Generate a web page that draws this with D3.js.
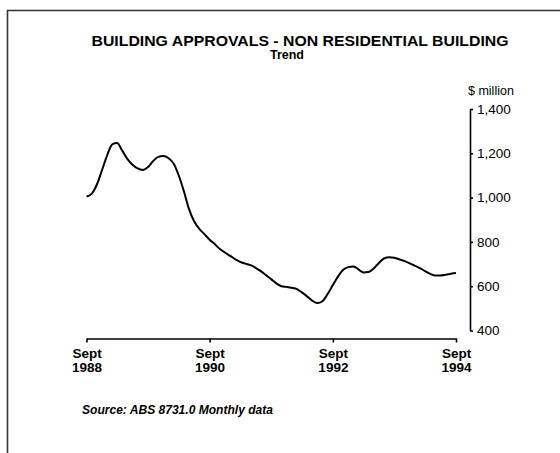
<!DOCTYPE html>
<html>
<head>
<meta charset="utf-8">
<script src="https://cdn.jsdelivr.net/npm/d3@7"></script>
<style>
  html, body { margin: 0; padding: 0; background: #fff; }
  svg { display: block; font-family: "Liberation Sans", Arial, Helvetica, sans-serif; }
</style>
</head>
<body>
<svg id="chart" width="560" height="453"></svg>
<script>
// Non-residential building approvals, trend series, $ million, monthly Sept 1988 - Sept 1994
const startMonth = new Date(1988, 8, 1);
const approvals = [
  1005, 1017, 1058, 1122, 1190, 1240, 1246, 1212, 1175, 1148, 1132, 1125,
  1138, 1165, 1184, 1188, 1178, 1152, 1102, 1030, 950, 893, 860, 835,
  810, 790, 768, 752, 737, 721, 710, 702, 695, 683, 668, 650,
  632, 613, 600, 597, 593, 587, 572, 554, 535, 524, 532, 565,
  605, 643, 674, 686, 689, 675, 662, 664, 680, 705, 725, 731,
  728, 721, 713, 703, 692, 681, 668, 656, 648, 648, 652, 656,
  660
];
const xTickDates = [new Date(1988, 8, 1), new Date(1990, 8, 1), new Date(1992, 8, 1), new Date(1994, 8, 1)];
const xTickMonth = "Sept";
const yTicks = [400, 600, 800, 1000, 1200, 1400];

const titleText = "BUILDING APPROVALS - NON RESIDENTIAL BUILDING";
const subtitleText = "Trend";
const unitText = "$ million";
const sourceText = "Source: ABS 8731.0 Monthly data";

const series = approvals.map((v, i) => ({ date: d3.timeMonth.offset(startMonth, i), value: v }));

const svg = d3.select("#chart");

// Frame (top and left edges fall inside the page)
svg.append("path")
  .attr("d", "M7.5,453 L7.5,10.5 L560,10.5")
  .attr("fill", "none")
  .attr("stroke", "#333")
  .attr("stroke-width", 1.6);

const x = d3.scaleTime()
  .domain([xTickDates[0], xTickDates[xTickDates.length - 1]])
  .range([86.5, 456]);

const y = d3.scaleLinear()
  .domain([400, 1400])
  .range([330.5, 109]);

// Titles
svg.append("text")
  .attr("x", 300).attr("y", 45.5)
  .attr("text-anchor", "middle")
  .attr("font-size", 15.2)
  .attr("font-weight", "bold")
  .attr("textLength", 417)
  .attr("lengthAdjust", "spacingAndGlyphs")
  .text(titleText);

svg.append("text")
  .attr("x", 287).attr("y", 59)
  .attr("text-anchor", "middle")
  .attr("font-size", 12.5)
  .attr("font-weight", "bold")
  .text(subtitleText);

// Right-hand value axis
const yAxis = svg.append("g")
  .attr("transform", "translate(470,0)")
  .call(d3.axisRight(y).tickValues(yTicks).tickSize(3).tickSizeOuter(0).tickPadding(4).tickFormat(d3.format(",")));
yAxis.select(".domain").attr("stroke", "#000").attr("stroke-width", 1.6);
yAxis.selectAll(".tick line").attr("stroke", "#000").attr("stroke-width", 1.6);
yAxis.selectAll(".tick text")
  .attr("font-size", 13.5)
  .attr("fill", "#000")
  .attr("font-family", "'Liberation Sans', Arial, sans-serif");

svg.append("text")
  .attr("x", 468).attr("y", 94.5)
  .attr("font-size", 12.5)
  .text(unitText);

// Bottom time axis
const xAxis = svg.append("g")
  .attr("transform", "translate(0,338.5)")
  .call(d3.axisBottom(x).tickValues(xTickDates).tickSize(4).tickSizeOuter(0).tickFormat(() => ""));
xAxis.select(".domain").attr("stroke", "#000").attr("stroke-width", 1.6);
xAxis.selectAll(".tick line").attr("stroke", "#000").attr("stroke-width", 1.6);
xAxis.selectAll(".tick text").remove();
xAxis.selectAll(".tick").each(function(d) {
  const t = d3.select(this).append("text")
    .attr("text-anchor", "middle")
    .attr("font-size", 13.5)
    .attr("font-weight", "bold")
    .attr("fill", "#000")
    .attr("font-family", "'Liberation Sans', Arial, sans-serif");
  t.append("tspan").attr("x", 0).attr("y", 19).text(xTickMonth);
  t.append("tspan").attr("x", 0).attr("y", 33.5).text(d.getFullYear());
});

// Trend line
const line = d3.line()
  .x(d => x(d.date))
  .y(d => y(d.value))
  .curve(d3.curveMonotoneX);

svg.append("path")
  .datum(series)
  .attr("d", line)
  .attr("fill", "none")
  .attr("stroke", "#000")
  .attr("stroke-width", 2)
  .attr("stroke-linejoin", "round");

// Source note
svg.append("text")
  .attr("x", 82).attr("y", 413.5)
  .attr("font-size", 12)
  .attr("font-weight", "bold")
  .attr("font-style", "italic")
  .attr("textLength", 191)
  .attr("lengthAdjust", "spacingAndGlyphs")
  .text(sourceText);
</script>
</body>
</html>
